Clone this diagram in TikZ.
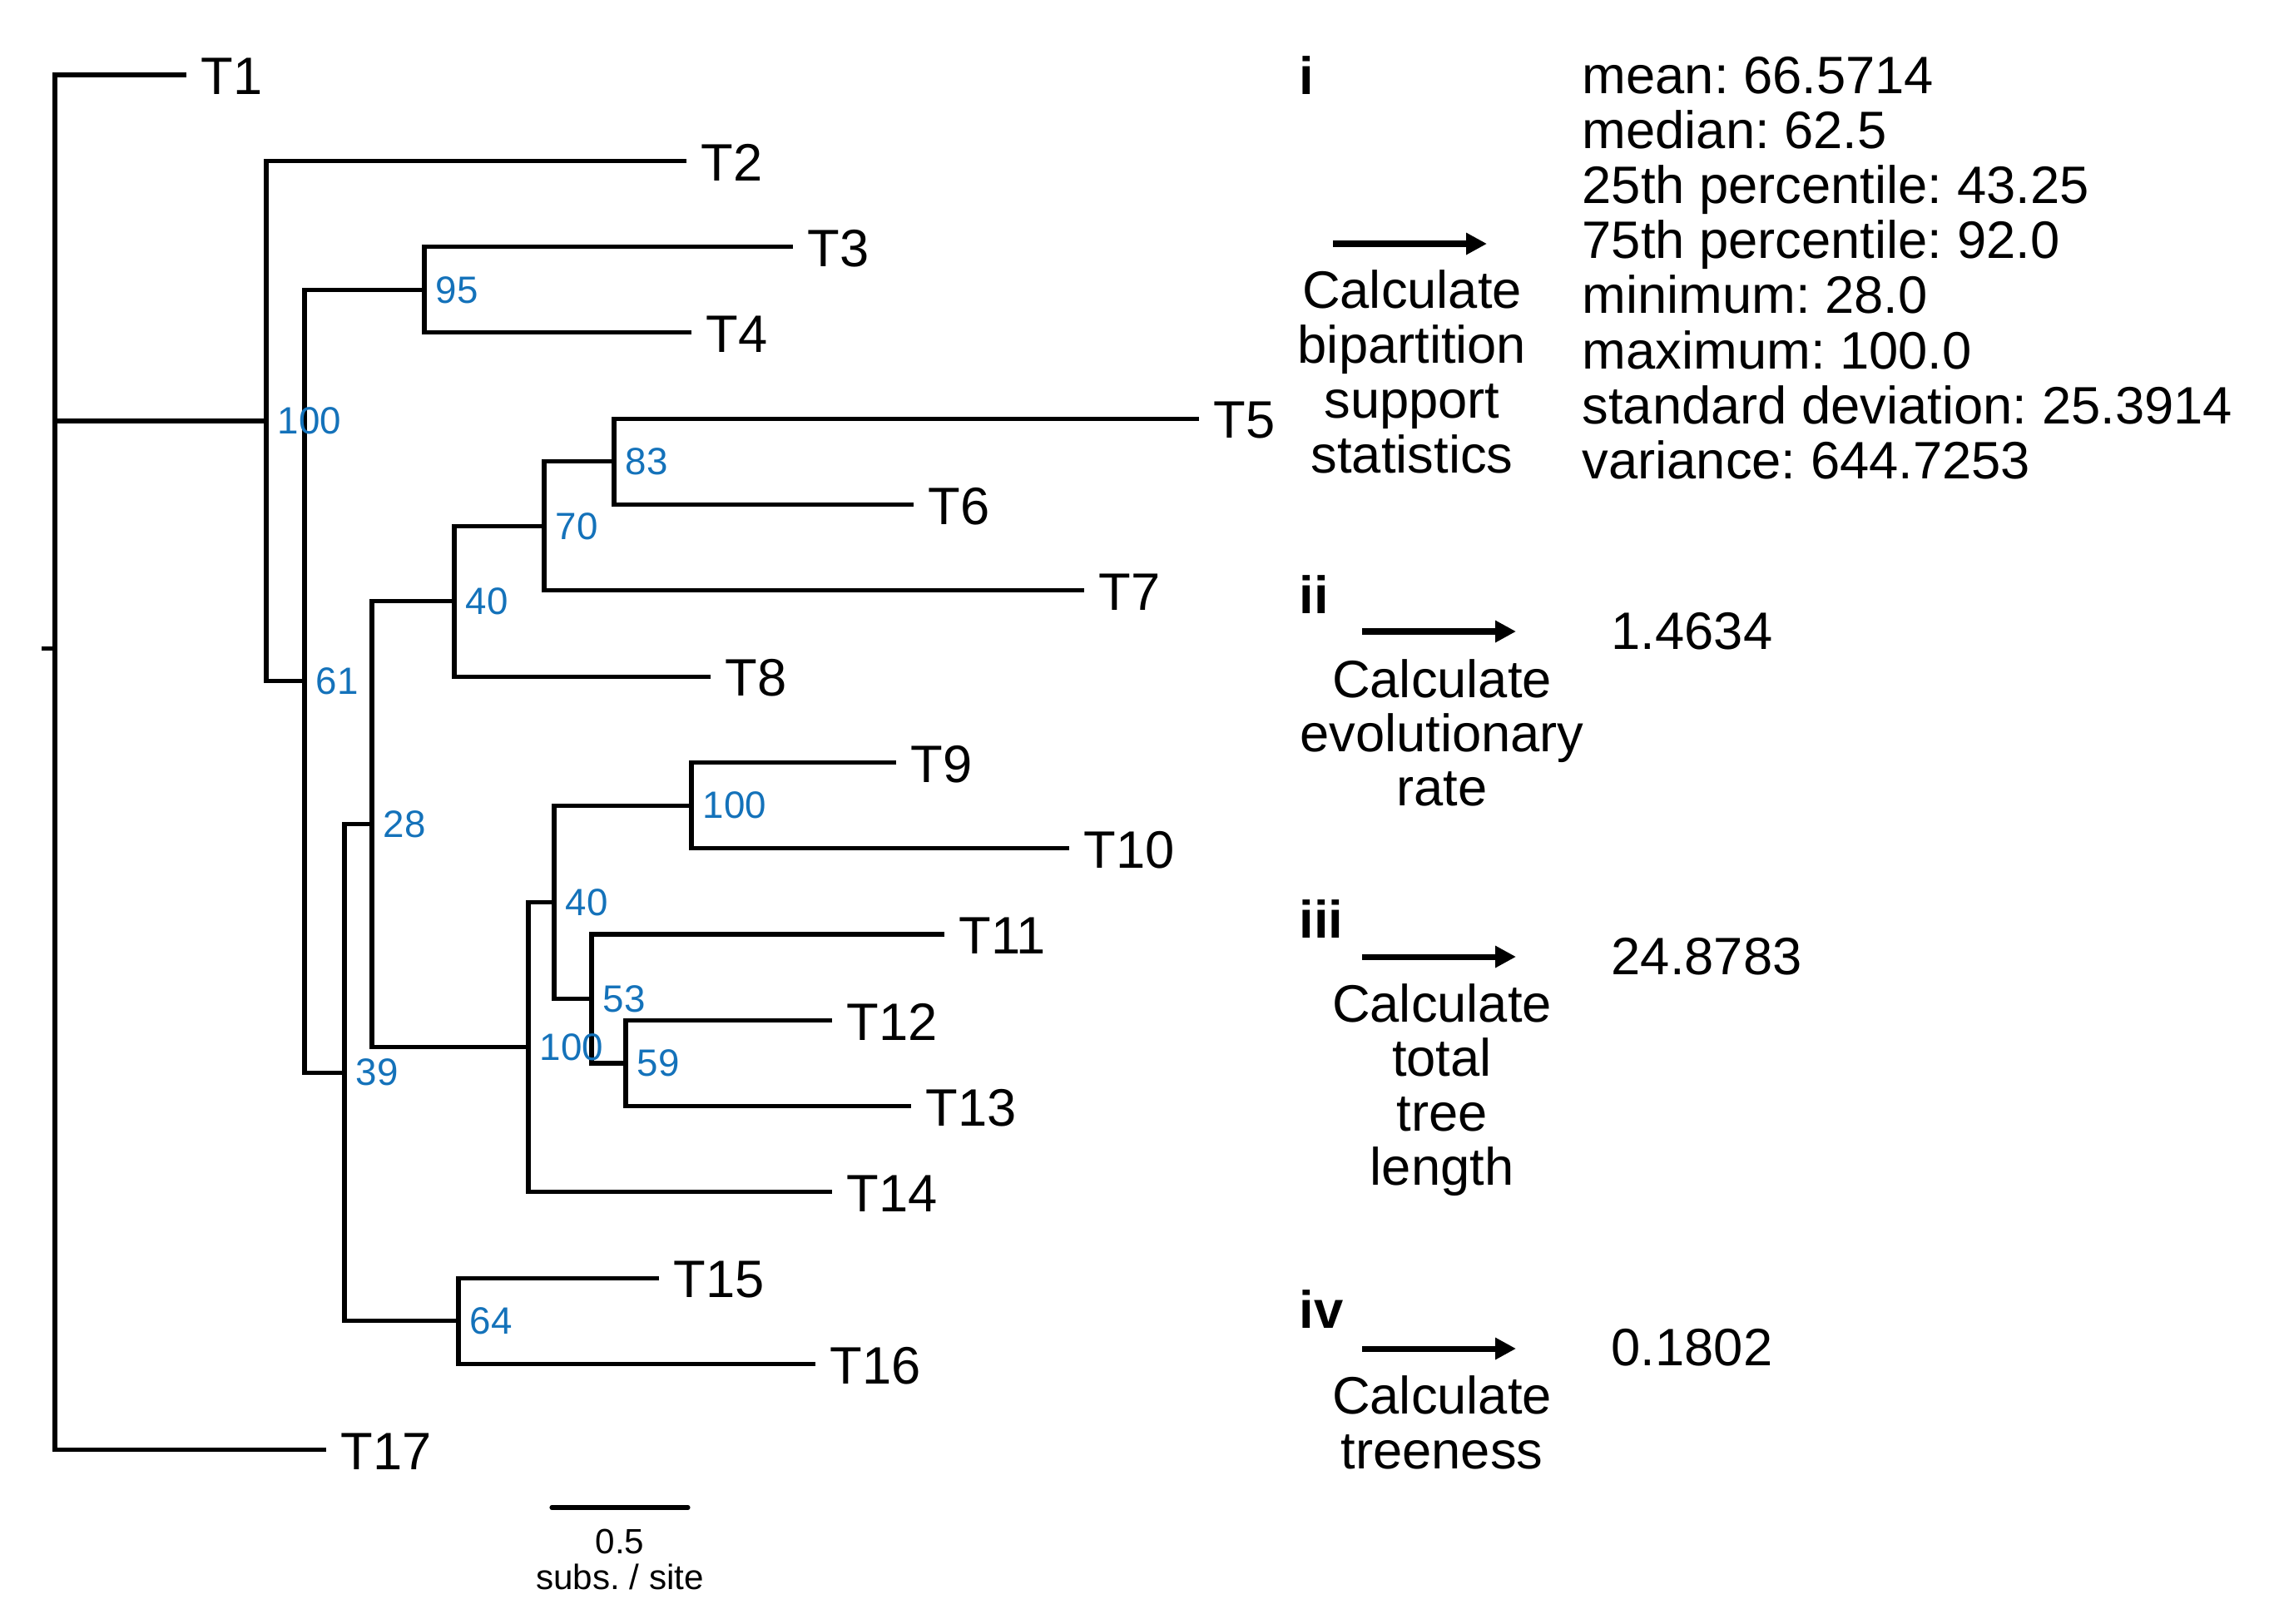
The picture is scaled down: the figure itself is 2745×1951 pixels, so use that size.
\documentclass[tikz,border=0pt]{standalone}
\usepackage{fontspec}
\setmainfont{Liberation Sans}
\usetikzlibrary{arrows.meta}
\definecolor{supportblue}{RGB}{20,114,186}
\frenchspacing

\begin{document}
\begin{tikzpicture}[
    x=0.01cm, y=-0.01cm,
    branch/.style = {line width=1.45pt},
    taxon/.style = {
      anchor=west, inner sep=0pt, xshift=0.17cm, yshift=-0.02cm,
      font=\fontsize{18}{20}\selectfont
    },
    support/.style = {
      anchor=west, inner sep=0pt, xshift=0.13cm,
      text=supportblue, font=\fontsize{13}{15}\selectfont
    },
    body/.style = {anchor=base, inner sep=0pt, font=\fontsize{18}{20}\selectfont},
    numeral/.style = {anchor=west, inner sep=0pt, font=\fontsize{18}{20}\selectfont\bfseries},
    value/.style = {anchor=west, inner sep=0pt, font=\fontsize{18}{20}\selectfont},
    stepline/.style = {line width=2pt, -{Triangle[length=0.25cm, width=0.25cm]}},
    scaletext/.style = {anchor=base, inner sep=0pt, font=\fontsize{12}{14}\selectfont}
  ]
    \useasboundingbox (0,0) rectangle (2745,1951);

    % tips
    \foreach \xe [count=\k] in {224,825,953,831,1441,1098,1303,854,1077,1285,1135,1000,1095,1000,792,980,392} {
      \coordinate (t\k) at (\xe, {90+103.3*(\k-1)});
      \node[taxon] (lab\k) at (t\k) {T\k};
    }

    % internal nodes
    \coordinate (root)  at (66,779.6);
    \coordinate (stub)  at (50,779.6);
    \coordinate (n100a) at (320,506);
    \coordinate (n61)   at (366,818.7);
    \coordinate (n95)   at (510,348.3);
    \coordinate (n39)   at (414,1289.2);
    \coordinate (n28)   at (447,990.6);
    \coordinate (n40a)  at (546,722.7);
    \coordinate (n70)   at (654,632.3);
    \coordinate (n83)   at (738,554.9);
    \coordinate (n100b) at (635,1258.6);
    \coordinate (n40b)  at (666,1084.3);
    \coordinate (n100c) at (831,968.1);
    \coordinate (n53)   at (711,1200.5);
    \coordinate (n59)   at (752,1278);
    \coordinate (n64)   at (551,1587.9);

    \draw[branch] (t1) -| (root) |- (t17);
    \draw[branch] (root) -- (stub);
    \draw[branch] (n100a) -- (root |- n100a);
    \draw[branch] (t2) -| (n100a) |- (n61);
    \draw[branch] (n95) -| (n61) |- (n39);
    \draw[branch] (t3) -| (n95) |- (t4);
    \draw[branch] (n28) -| (n39) |- (n64);
    \draw[branch] (n40a) -| (n28) |- (n100b);
    \draw[branch] (n70) -| (n40a) |- (t8);
    \draw[branch] (n83) -| (n70) |- (t7);
    \draw[branch] (t5) -| (n83) |- (t6);
    \draw[branch] (n40b) -| (n100b) |- (t14);
    \draw[branch] (n100c) -| (n40b) |- (n53);
    \draw[branch] (t9) -| (n100c) |- (t10);
    \draw[branch] (t11) -| (n53) |- (n59);
    \draw[branch] (t12) -| (n59) |- (t13);
    \draw[branch] (t15) -| (n64) |- (t16);

    % bipartition support
    \foreach \n/\v in {n100a/100, n61/61, n95/95, n39/39, n28/28, n40a/40, n70/70,
                       n83/83, n100b/100, n40b/40, n100c/100, n53/53, n59/59, n64/64}
      \node[support] (s\n) at (\n) {\v};

    % scale bar
    \coordinate (barl) at (663,1812);
    \coordinate (barr) at (827,1812);
    \draw[branch, line cap=round] (barl) -- (barr);
    \node[scaletext] (barval)  at (745,1867) {0.5};
    \node[scaletext] (barunit) at (745,1910) {subs. / site};

    % i
    \node[numeral] (pi) at (1561,91) {i};
    \coordinate (a1s) at (1602,293);
    \coordinate (a1e) at (1787,293);
    \draw[stepline] (a1s) -- (a1e);
    \foreach \ln [count=\k from 0] in {Calculate, bipartition, support, statistics}
      \node[body] (ci\k) at (1697, {370+66*\k}) {\ln};
    \foreach \txt [count=\k from 0] in {mean: 66.5714, median: 62.5,
        25th percentile: 43.25, 75th percentile: 92.0, minimum: 28.0,
        maximum: 100.0, standard deviation: 25.3914, variance: 644.7253}
      \node[body, anchor=base west] (st\k) at (1901, {112+66.2*\k}) {\txt};

    % ii
    \node[numeral] (pii) at (1561,715) {ii};
    \coordinate (a2s) at (1637,759);
    \coordinate (a2e) at (1822,759);
    \draw[stepline] (a2s) -- (a2e);
    \foreach \ln [count=\k from 0] in {Calculate, evolutionary, rate}
      \node[body] (cii\k) at (1733, {838+65*\k}) {\ln};
    \node[value] (vii) at (1936,759) {1.4634};

    % iii
    \node[numeral] (piii) at (1561,1105) {iii};
    \coordinate (a3s) at (1637,1150);
    \coordinate (a3e) at (1822,1150);
    \draw[stepline] (a3s) -- (a3e);
    \foreach \ln [count=\k from 0] in {Calculate, total, tree, length}
      \node[body] (ciii\k) at (1733, {1228+65.5*\k}) {\ln};
    \node[value] (viii) at (1936,1150) {24.8783};

    % iv
    \node[numeral] (piv) at (1561,1574) {iv};
    \coordinate (a4s) at (1637,1621);
    \coordinate (a4e) at (1822,1621);
    \draw[stepline] (a4s) -- (a4e);
    \foreach \ln [count=\k from 0] in {Calculate, treeness}
      \node[body] (civ\k) at (1733, {1699+66*\k}) {\ln};
    \node[value] (viv) at (1936,1620) {0.1802};
  \end{tikzpicture}
\end{document}
